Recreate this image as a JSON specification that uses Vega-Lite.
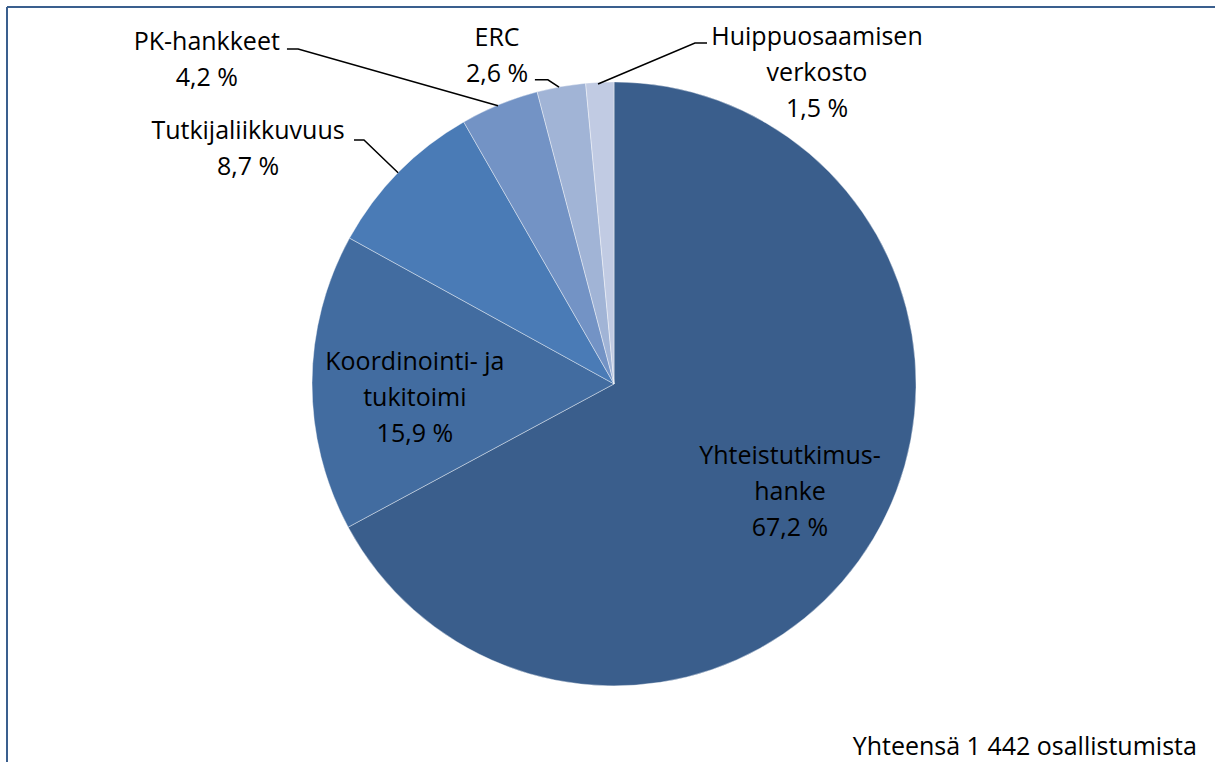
{
  "$schema": "https://vega.github.io/schema/vega-lite/v6.json",
  "width": 1208,
  "height": 755,
  "padding": {"left": 7, "top": 7, "right": 0, "bottom": 0},
  "autosize": {"type": "none"},
  "background": "white",
  "config": {
    "view": {"stroke": null},
    "font": "Open Sans",
    "text": {"font": "Open Sans"}
  },
  "datasets": {
    "shares": [
      {"category": "Yhteistutkimushanke", "value": 67.2, "label": "Yhteistutkimus-\nhanke\n67,2 %"},
      {"category": "Koordinointi- ja tukitoimi", "value": 15.9, "label": "Koordinointi- ja\ntukitoimi\n15,9 %"},
      {"category": "Tutkijaliikkuvuus", "value": 8.7, "label": "Tutkijaliikkuvuus\n8,7 %"},
      {"category": "PK-hankkeet", "value": 4.2, "label": "PK-hankkeet\n4,2 %"},
      {"category": "ERC", "value": 2.6, "label": "ERC\n2,6 %"},
      {"category": "Huippuosaamisen verkosto", "value": 1.5, "label": "Huippuosaamisen\nverkosto\n1,5 %"}
    ],
    "leaders": [
      {"category": "PK-hankkeet", "step": 1, "x": -108.3, "y": 110.9},
      {"category": "PK-hankkeet", "step": 2, "x": -104.6, "y": 110.9},
      {"category": "PK-hankkeet", "step": 3, "x": -38.4, "y": 92.1},
      {"category": "Tutkijaliikkuvuus", "step": 1, "x": -86.1, "y": 80.8},
      {"category": "Tutkijaliikkuvuus", "step": 2, "x": -82.8, "y": 80.8},
      {"category": "Tutkijaliikkuvuus", "step": 3, "x": -71.5, "y": 69.9},
      {"category": "ERC", "step": 1, "x": -26.2, "y": 100.7},
      {"category": "ERC", "step": 2, "x": -21.9, "y": 100.7},
      {"category": "ERC", "step": 3, "x": -18.2, "y": 98.3},
      {"category": "Huippuosaamisen verkosto", "step": 1, "x": 30.8, "y": 112.9},
      {"category": "Huippuosaamisen verkosto", "step": 2, "x": 26.8, "y": 112.9},
      {"category": "Huippuosaamisen verkosto", "step": 3, "x": -5.3, "y": 99.3}
    ]
  },
  "layer": [
    {
      "data": {"name": "shares"},
      "transform": [{"stack": "value", "groupby": [], "sort": [{"field": "value", "order": "descending"}], "as": ["v0", "v1"]}],
      "mark": {"type": "arc", "outerRadius": 302, "stroke": "#ffffff", "strokeWidth": 0.8, "strokeOpacity": 0.5},
      "encoding": {
        "theta": {"field": "v0", "type": "quantitative", "scale": {"domain": [0, 100.1]}},
        "theta2": {"field": "v1"},
        "x": {"datum": 0, "type": "quantitative", "scale": {"domain": [-201, 199], "nice": false, "zero": false}, "axis": null},
        "y": {"datum": 0, "type": "quantitative", "scale": {"domain": [-125.2, 124.8], "nice": false, "zero": false}, "axis": null},
        "color": {
          "field": "category",
          "type": "nominal",
          "scale": {
            "domain": ["Yhteistutkimushanke", "Koordinointi- ja tukitoimi", "Tutkijaliikkuvuus", "PK-hankkeet", "ERC", "Huippuosaamisen verkosto"],
            "range": ["#3a5e8c", "#426ca0", "#4a7bb6", "#7393c5", "#a1b4d6", "#c1cbe3"]
          },
          "legend": null
        }
      }
    },
    {
      "data": {"values": [{}]},
      "mark": {"type": "rule", "color": "#3a5f8e", "strokeWidth": 2},
      "encoding": {"x": {"datum": -201, "type": "quantitative"}}
    },
    {
      "data": {"values": [{}]},
      "mark": {"type": "rule", "color": "#3a5f8e", "strokeWidth": 2},
      "encoding": {"y": {"datum": 124.8, "type": "quantitative"}}
    },
    {
      "data": {"name": "leaders"},
      "mark": {"type": "line", "color": "#000000", "strokeWidth": 1.5},
      "encoding": {
        "x": {"field": "x", "type": "quantitative"},
        "y": {"field": "y", "type": "quantitative"},
        "detail": {"field": "category"},
        "order": {"field": "step"}
      }
    },
    {
      "data": {"name": "shares"},
      "transform": [{"stack": "value", "groupby": [], "sort": [{"field": "value", "order": "descending"}], "as": ["v0", "v1"]}, {"filter": "datum.category === 'Yhteistutkimushanke'"}],
      "mark": {"type": "text", "radius": 72, "dx": 176, "dy": 144, "fontSize": 25, "lineBreak": "\n", "lineHeight": 36, "align": "center", "baseline": "middle", "color": "#000000"},
      "encoding": {"theta": {"field": "v0", "type": "quantitative"}, "x": {"datum": 0, "type": "quantitative"}, "y": {"datum": 0, "type": "quantitative"}, "text": {"field": "label"}}
    },
    {
      "data": {"name": "shares"},
      "transform": [{"stack": "value", "groupby": [], "sort": [{"field": "value", "order": "descending"}], "as": ["v0", "v1"]}, {"filter": "datum.category === 'Koordinointi- ja tukitoimi'"}],
      "mark": {"type": "text", "radius": 199, "dx": -24, "dy": -116, "fontSize": 25, "lineBreak": "\n", "lineHeight": 36, "align": "center", "baseline": "middle", "color": "#000000"},
      "encoding": {"theta": {"field": "v0", "type": "quantitative"}, "x": {"datum": 0, "type": "quantitative"}, "y": {"datum": 0, "type": "quantitative"}, "text": {"field": "label"}}
    },
    {
      "data": {"name": "shares"},
      "transform": [{"stack": "value", "groupby": [], "sort": [{"field": "value", "order": "descending"}], "as": ["v0", "v1"]}, {"filter": "datum.category === 'Tutkijaliikkuvuus'"}],
      "mark": {"type": "text", "radius": 330, "dx": -77, "dy": -94, "fontSize": 25, "lineBreak": "\n", "lineHeight": 36, "align": "center", "baseline": "middle", "color": "#000000"},
      "encoding": {"theta": {"field": "v0", "type": "quantitative"}, "x": {"datum": 0, "type": "quantitative"}, "y": {"datum": 0, "type": "quantitative"}, "text": {"field": "label"}}
    },
    {
      "data": {"name": "shares"},
      "transform": [{"stack": "value", "groupby": [], "sort": [{"field": "value", "order": "descending"}], "as": ["v0", "v1"]}, {"filter": "datum.category === 'PK-hankkeet'"}],
      "mark": {"type": "text", "radius": 330, "dx": -243, "dy": -56, "fontSize": 25, "lineBreak": "\n", "lineHeight": 36, "align": "center", "baseline": "middle", "color": "#000000"},
      "encoding": {"theta": {"field": "v0", "type": "quantitative"}, "x": {"datum": 0, "type": "quantitative"}, "y": {"datum": 0, "type": "quantitative"}, "text": {"field": "label"}}
    },
    {
      "data": {"name": "shares"},
      "transform": [{"stack": "value", "groupby": [], "sort": [{"field": "value", "order": "descending"}], "as": ["v0", "v1"]}, {"filter": "datum.category === 'ERC'"}],
      "mark": {"type": "text", "radius": 330, "dx": -33, "dy": -27, "fontSize": 25, "lineBreak": "\n", "lineHeight": 36, "align": "center", "baseline": "middle", "color": "#000000"},
      "encoding": {"theta": {"field": "v0", "type": "quantitative"}, "x": {"datum": 0, "type": "quantitative"}, "y": {"datum": 0, "type": "quantitative"}, "text": {"field": "label"}}
    },
    {
      "data": {"name": "shares"},
      "transform": [{"stack": "value", "groupby": [], "sort": [{"field": "value", "order": "descending"}], "as": ["v0", "v1"]}, {"filter": "datum.category === 'Huippuosaamisen verkosto'"}],
      "mark": {"type": "text", "radius": 330, "dx": 234, "dy": -18.5, "fontSize": 25, "lineBreak": "\n", "lineHeight": 36, "align": "center", "baseline": "middle", "color": "#000000"},
      "encoding": {"theta": {"field": "v0", "type": "quantitative"}, "x": {"datum": 0, "type": "quantitative"}, "y": {"datum": 0, "type": "quantitative"}, "text": {"field": "label"}}
    },
    {
      "data": {"values": [{"note": "Yhteensä 1 442 osallistumista"}]},
      "mark": {"type": "text", "align": "right", "baseline": "middle", "fontSize": 25, "color": "#000000"},
      "encoding": {"x": {"datum": 193.0, "type": "quantitative"}, "y": {"datum": -120.2, "type": "quantitative"}, "text": {"field": "note"}}
    }
  ]
}
